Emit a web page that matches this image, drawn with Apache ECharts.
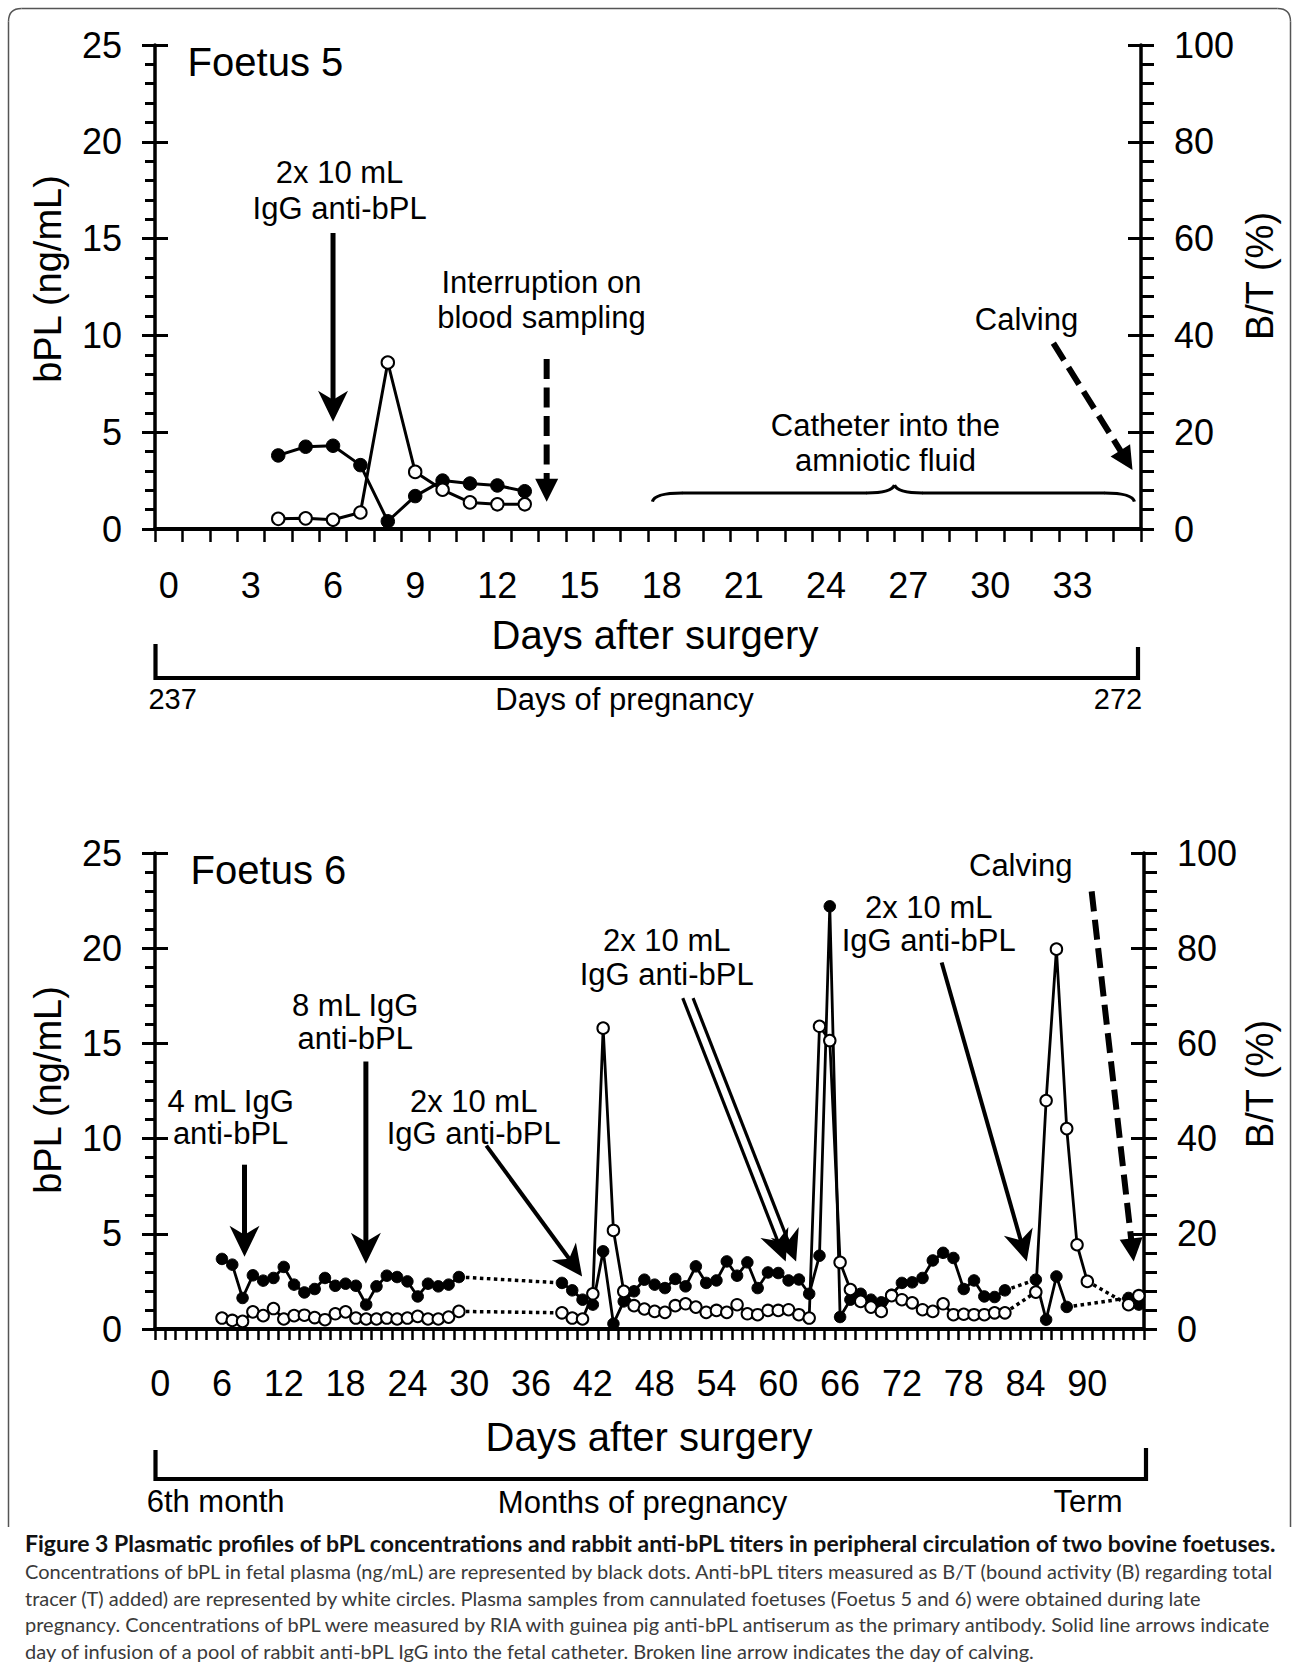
<!DOCTYPE html>
<html><head><meta charset="utf-8">
<script src="https://cdn.jsdelivr.net/npm/echarts@6/dist/echarts.min.js"></script>
<style>html,body{margin:0;padding:0;background:#fff}#c{width:1293px;height:1666px}</style>
</head><body><div id="c"></div><script>
// ---------------- DATA ----------------
// Foetus 5 (days after surgery 0..35)
const f5Cats = ['0','1','2','3','4','5','6','7','8','9','10','11','12','13','14','15','16','17','18','19','20','21','22','23','24','25','26','27','28','29','30','31','32','33','34','35'];
const f5Days = [4,5,6,7,8,9,10,11,12,13];
const f5bPL  = [3.8,4.25,4.3,3.3,0.4,1.7,2.5,2.35,2.25,1.95];      // ng/mL (black dots)
const f5BT   = [2.1,2.2,1.9,3.4,34.4,11.8,8.1,5.5,5.1,5.1];        // B/T % (white circles)

// Foetus 6 (days after surgery 0..95)
const f6Cats = Array.from({length:96},(_,i)=>String(i));
const f6bPLDays = [6,7,8,9,10,11,12,13,14,15,16,17,18,19,20,21,22,23,24,25,26,27,28,29,
  39,40,41,42,43,44,45,46,47,48,49,50,51,52,53,54,55,56,57,58,59,60,61,62,63,64,65,66,67,68,69,70,71,72,73,74,75,76,77,78,79,80,81,82,
  85,86,87,88,94,95];
const f6bPL = [3.68,3.38,1.63,2.82,2.54,2.68,3.26,2.33,1.92,2.1,2.68,2.27,2.38,2.27,1.28,2.24,2.8,2.73,2.5,1.71,2.38,2.24,2.33,2.73,
  2.42,2.03,1.54,1.28,4.08,0.28,1.45,1.98,2.59,2.33,2.15,2.63,2.24,3.29,2.42,2.55,3.55,2.8,3.5,2.15,2.97,2.94,2.55,2.6,1.85,3.85,22.2,0.63,1.54,1.85,1.54,1.4,1.8,2.42,2.45,2.68,3.6,4.0,3.73,2.1,2.55,1.71,1.68,2.03,
  2.59,0.49,2.76,1.16,1.63,1.28];
const f6BTDays = [6,7,8,9,10,11,12,13,14,15,16,17,18,19,20,21,22,23,24,25,26,27,28,29,
  39,40,41,42,43,44,45,46,47,48,49,50,51,52,53,54,55,56,57,58,59,60,61,62,63,64,65,66,67,68,69,70,71,72,73,74,75,76,77,78,79,80,81,82,
  85,86,87,88,89,90,94,95];
const f6BT = [2.3,1.8,1.6,3.6,2.8,4.3,2.1,2.8,2.9,2.4,1.95,3.2,3.6,2.3,2.1,2.1,2.3,2.1,2.3,2.65,2.1,2.1,2.5,3.7,
  3.4,2.3,2.1,7.4,63.2,20.7,7.9,4.9,4.2,3.7,3.5,4.9,5.3,4.6,3.5,3.9,3.5,5.1,3.2,3.0,3.9,3.9,4.05,3.0,2.3,63.6,60.6,14.0,8.3,5.8,4.6,3.7,7.0,6.15,5.5,4.05,3.7,5.3,3.0,3.1,3.0,3.0,3.4,3.4,
  7.75,48.0,79.8,42.1,17.7,10.0,5.1,7.0];

const yLeftTicks = {min:0, max:25, interval:5};
const yRightTicks = {min:0, max:100, interval:20};

const captionLines = [
  'Figure 3 Plasmatic profiles of bPL concentrations and rabbit anti-bPL titers in peripheral circulation of two bovine foetuses.',
  'Concentrations of bPL in fetal plasma (ng/mL) are represented by black dots. Anti-bPL titers measured as B/T (bound activity (B) regarding total',
  'tracer (T) added) are represented by white circles. Plasma samples from cannulated foetuses (Foetus 5 and 6) were obtained during late',
  'pregnancy. Concentrations of bPL were measured by RIA with guinea pig anti-bPL antiserum as the primary antibody. Solid line arrows indicate',
  'day of infusion of a pool of rabbit anti-bPL IgG into the fetal catheter. Broken line arrow indicates the day of calving.'
];

// ---------------- LAYOUT / STYLE ----------------
const FONT = '"Liberation Sans", Arial, Helvetica, sans-serif';
const G5 = {left:155, top:45, width:986, height:484};
const G6 = {left:155, top:853, width:989, height:476};

const chart = echarts.init(document.getElementById('c'), null, {renderer:'svg', width:1293, height:1666});

function xAxisCfg(gi, cats, labInt, tickLen, margin){
  return {type:'category', gridIndex:gi, data:cats, boundaryGap:true,
    axisLine:{show:true, lineStyle:{color:'#000', width:4}},
    axisTick:{show:true, interval:0, alignWithLabel:false, length:tickLen, lineStyle:{color:'#000', width:2.5}},
    axisLabel:{interval:labInt, margin:margin, fontSize:36, fontFamily:FONT, color:'#000'},
    splitLine:{show:false}};
}
function yAxisCfg(gi, pos, t, inside, minorLen){
  const base = {type:'value', gridIndex:gi, position:pos, min:t.min, max:t.max, interval:t.interval, offset:0,
    splitLine:{show:false}, minorSplitLine:{show:false}};
  if(!inside){
    return Object.assign(base, {
      axisLine:{show:true, onZero:false, lineStyle:{color:'#000', width:3.5}},
      axisTick:{show:true, inside:false, length:13, lineStyle:{color:'#000', width:3}},
      minorTick:{show:true, splitNumber:5, length:minorLen, lineStyle:{color:'#000', width:3}},
      axisLabel:{show:true, margin:33, fontSize:36, fontFamily:FONT, color:'#000'}});
  }
  return Object.assign(base, {
    axisLine:{show:false}, axisTick:{show:true, inside:true, length:13, lineStyle:{color:'#000', width:3}},
    minorTick:{show:false}, axisLabel:{show:false}});
}

function splitSegments(days, vals){
  const segs=[]; let cur=[];
  for(let i=0;i<days.length;i++){
    if(cur.length && days[i]-days[i-1]>1){ segs.push(cur); cur=[]; }
    cur.push([days[i], vals[i]]);
  }
  if(cur.length) segs.push(cur);
  return segs;
}
const series=[];
function addSeries(xi, yi, days, vals, open, lw, size, bw){
  const segs = splitSegments(days, vals);
  for(let k=0;k<segs.length-1;k++){
    series.push({type:'line', xAxisIndex:xi, yAxisIndex:yi, data:[segs[k][segs[k].length-1], segs[k+1][0]],
      symbol:'none', silent:true, z:1,
      lineStyle:{color:'#000', width:3.5, type:[3.5,3.5], cap:'butt'}});
  }
  segs.forEach(s=>{
    series.push({type:'line', xAxisIndex:xi, yAxisIndex:yi, data:s, symbol:'circle', symbolSize:size,
      showAllSymbol:true, silent:true, z: open?4:3,
      lineStyle:{color:'#000', width:lw},
      itemStyle: open ? {color:'#fff', borderColor:'#000', borderWidth:bw} : {color:'#000', borderColor:'#000', borderWidth:1}});
  });
}
addSeries(0, 0, f5Days, f5bPL, false, 3, 13.5, 2);
addSeries(0, 2, f5Days, f5BT, true, 3, 12.5, 2);
addSeries(1, 4, f6bPLDays, f6bPL, false, 2.8, 11.5, 2);
addSeries(1, 6, f6BTDays, f6BT, true, 2.8, 11.5, 2);

chart.setOption({
  animation:false,
  backgroundColor:'#fff',
  grid:[Object.assign({containLabel:false, outerBoundsMode:'none'}, G5), Object.assign({containLabel:false, outerBoundsMode:'none'}, G6)],
  xAxis:[xAxisCfg(0, f5Cats, 2, 13, 38), xAxisCfg(1, f6Cats, 5, 11, 36)],
  yAxis:[
    yAxisCfg(0,'left',yLeftTicks,false,10), yAxisCfg(0,'left',yLeftTicks,true),
    yAxisCfg(0,'right',yRightTicks,false,13), yAxisCfg(0,'right',yRightTicks,true),
    yAxisCfg(1,'left',yLeftTicks,false,10), yAxisCfg(1,'left',yLeftTicks,true),
    yAxisCfg(1,'right',yRightTicks,false,13), yAxisCfg(1,'right',yRightTicks,true)
  ],
  series:series
});

// ---------------- ANNOTATIONS (data coordinates) ----------------
const ann5 = {
  title:{d:0.69, v:24.12, t:'Foetus 5'},
  texts:[[6.24,18.44,'2x 10 mL'],[6.24,16.58,'IgG anti-bPL'],[13.61,12.71,'Interruption on'],[13.61,10.9,'blood sampling'],
         [26.17,5.37,'Catheter into the'],[26.17,3.56,'amniotic fluid'],[31.32,10.8,'Calving']],
  solid:[[[6,15.29],[6,5.54],5]],
  dashed:[[[13.8,8.78],[13.8,1.41]],[[32.3,9.6],[35.19,3.05]]],
  brace:{d0:17.66, d1:35.26, dc:26.5, vEnd:1.41, vFlat:1.86, vTip:2.27}
};
const ann6 = {
  title:{d:2.955, v:24.12, t:'Foetus 6'},
  texts:[[6.84,11.97,'4 mL IgG'],[6.84,10.27,'anti-bPL'],[18.93,17.0,'8 mL IgG'],[18.93,15.25,'anti-bPL'],
         [30.43,11.97,'2x 10 mL'],[30.43,10.27,'IgG anti-bPL'],[49.17,20.38,'2x 10 mL'],[49.17,18.6,'IgG anti-bPL'],
         [74.6,22.15,'2x 10 mL'],[74.6,20.38,'IgG anti-bPL'],[83.53,24.33,'Calving']],
  solid:[[[8.19,8.63],[8.19,3.8],5],[[19.97,14.05],[19.97,3.43],5],[[31.66,9.63],[40.96,2.76],4],
         [[50.73,17.38],[60.72,3.55],3.2],[[51.73,17.38],[61.73,3.55],3.2],[[75.86,19.25],[84.12,3.55],4]],
  dashed:[[[90.42,22.98],[94.5,3.55]]]
};

function mapper(xi, yi){
  const a = chart.convertToPixel({xAxisIndex:xi, yAxisIndex:yi}, [0, 0]);
  const b = chart.convertToPixel({xAxisIndex:xi, yAxisIndex:yi}, [10, 10]);
  return (d, v) => [a[0] + (b[0]-a[0])*d/10, a[1] + (b[1]-a[1])*v/10];
}
function txt(x, y, t, size, opt){
  opt = opt||{};
  const al = opt.align||'center';
  return {type:'text', x:x, y:y, rotation:opt.rotation||0, z:50, silent:true,
    style:{text:t, font:(opt.weight||'normal')+' '+size+'px '+(opt.family||FONT), fill:opt.fill||'#000',
      align:al, textAlign:al, verticalAlign:'middle', textVerticalAlign:'middle'}};
}
function seg(x1,y1,x2,y2,lw,color){
  return {type:'line', z:40, silent:true, shape:{x1,y1,x2,y2}, style:{stroke:color||'#000', lineWidth:lw, lineCap:'butt'}};
}
function qcurve(x1,y1,cx,cy,x2,y2,lw,color){
  return {type:'bezierCurve', z:40, silent:true, shape:{x1,y1,x2,y2,cpx1:cx,cpy1:cy}, style:{stroke:color||'#000', lineWidth:lw, fill:null}};
}
function arrowEls(p0, p1, lw, dashed, W, L, notch){
  const dx=p1[0]-p0[0], dy=p1[1]-p0[1], len=Math.hypot(dx,dy);
  const ux=dx/len, uy=dy/len, px=-uy, py=ux;
  const endBack = L - notch - 1;
  const els=[];
  const ln = {type:'line', z:40, silent:true, shape:{x1:p0[0], y1:p0[1], x2:p1[0]-ux*endBack, y2:p1[1]-uy*endBack},
    style:{stroke:'#000', lineWidth:lw, lineCap:'butt'}};
  if(dashed) ln.style.lineDash=[20,8.5];
  els.push(ln);
  const bx=p1[0]-ux*L, by=p1[1]-uy*L;
  els.push({type:'polygon', z:41, silent:true, shape:{points:[
    [p1[0],p1[1]], [bx+px*W/2, by+py*W/2], [p1[0]-ux*(L-notch), p1[1]-uy*(L-notch)], [bx-px*W/2, by-py*W/2]]},
    style:{fill:'#000'}});
  return els;
}
function buildAnn(m, ann, els){
  const tp = m(ann.title.d, ann.title.v);
  els.push(txt(tp[0], tp[1], ann.title.t, 40, {align:'left'}));
  ann.texts.forEach(t=>{ const p=m(t[0],t[1]); els.push(txt(p[0],p[1],t[2],31)); });
  ann.solid.forEach(a=>{ els.push(...arrowEls(m(...a[0]), m(...a[1]), a[2], false, 30, 31, 9)); });
  ann.dashed.forEach(a=>{ els.push(...arrowEls(m(...a[0]), m(...a[1]), 6, true, 23, 23, 0)); });
  if(ann.brace){
    const b=ann.brace;
    const L=m(b.d0,b.vEnd), R=m(b.d1,b.vEnd), F=m(b.dc,b.vFlat), T=m(b.dc,b.vTip);
    const yF=F[1], xc=T[0], yT=T[1], lw=3.2;
    els.push(qcurve(L[0],L[1], L[0]+2,yF, L[0]+30,yF, lw));
    els.push(seg(L[0]+29.5,yF, xc-27.5,yF, lw));
    els.push(qcurve(xc-28,yF, xc-3,yF, xc,yT, lw));
    els.push(qcurve(xc,yT, xc+3,yF, xc+28,yF, lw));
    els.push(seg(xc+27.5,yF, R[0]-29.5,yF, lw));
    els.push(qcurve(R[0]-30,yF, R[0]-2,yF, R[0],R[1], lw));
  }
}

const els=[];
buildAnn(mapper(0,0), ann5, els);
buildAnn(mapper(1,4), ann6, els);

// axis names
els.push(txt(48, 279, 'bPL (ng/mL)', 38, {rotation:Math.PI/2}));
els.push(txt(1260, 276, 'B/T (%)', 38, {rotation:Math.PI/2}));
els.push(txt(48, 1090, 'bPL (ng/mL)', 38, {rotation:Math.PI/2}));
els.push(txt(1260, 1084, 'B/T (%)', 38, {rotation:Math.PI/2}));
els.push(txt(655, 635, 'Days after surgery', 40));
els.push(txt(649, 1437, 'Days after surgery', 40));

// pregnancy brackets
function bracket(x0, x1, yTop0, yTop1, yB){
  return {type:'polyline', z:40, silent:true, shape:{points:[[x0,yTop0],[x0,yB],[x1,yB],[x1,yTop1]]},
    style:{stroke:'#000', lineWidth:4.2, fill:null, lineJoin:'miter'}};
}
els.push(bracket(155.5, 1138, 644, 647, 678));
els.push(txt(172.6, 699, '237', 29));
els.push(txt(624.6, 699, 'Days of pregnancy', 31));
els.push(txt(1118, 699, '272', 29));
els.push(bracket(155.5, 1146, 1450, 1448, 1479));
els.push(txt(215.6, 1501, '6th month', 31));
els.push(txt(642.6, 1502, 'Months of pregnancy', 31));
els.push(txt(1088, 1501, 'Term', 31));

// frame (open at the bottom, rounded top corners)
const FR = {l:8.5, t:8.5, r:1290.5, b:1527, rad:13, c:'#555', w:1.5};
els.push(seg(FR.l, FR.b, FR.l, FR.t+FR.rad, FR.w, FR.c));
els.push(qcurve(FR.l, FR.t+FR.rad, FR.l, FR.t, FR.l+FR.rad, FR.t, FR.w, FR.c));
els.push(seg(FR.l+FR.rad, FR.t, FR.r-FR.rad, FR.t, FR.w, FR.c));
els.push(qcurve(FR.r-FR.rad, FR.t, FR.r, FR.t, FR.r, FR.t+FR.rad, FR.w, FR.c));
els.push(seg(FR.r, FR.t+FR.rad, FR.r, FR.b, FR.w, FR.c));

// caption (font size fitted to the reference line widths)
const CAPF = 'Lato, "Open Sans", "Noto Sans", sans-serif';
const cv = document.createElement('canvas').getContext('2d');
function wAt(t, weight, size){ cv.font = weight+' '+size+'px '+CAPF; return cv.measureText(t).width; }
const boldSize = 20 * 1253 / wAt(captionLines[0], 'bold', 20);
const regSize = (20 * 1248 / wAt(captionLines[1], 'normal', 20) + 20 * 1252 / wAt(captionLines[3], 'normal', 20)) / 2;
const capY = [1543, 1571, 1597.5, 1624, 1650.5];
captionLines.forEach((t,i)=>{
  els.push(txt(25, capY[i], t, (i===0?boldSize:regSize).toFixed(2), {align:'left', family:CAPF, weight:i===0?'bold':'normal', fill:i===0?'#111':'#3a3a3a'}));
});

chart.setOption({graphic:{elements:els}});
</script></body></html>
